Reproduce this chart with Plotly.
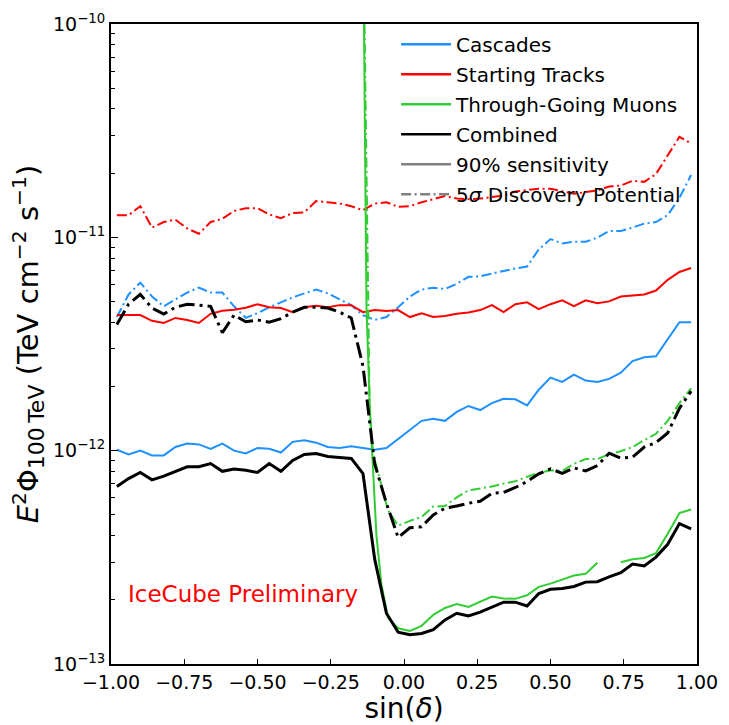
import plotly.graph_objects as go

# ---------------- data ----------------
sin_dec = [-0.98, -0.94, -0.90, -0.86, -0.82, -0.78, -0.74, -0.70, -0.66, -0.62,
           -0.58, -0.54, -0.50, -0.46, -0.42, -0.38, -0.34, -0.30, -0.26, -0.22,
           -0.18, -0.14, -0.10, -0.06, -0.02, 0.02, 0.06, 0.10, 0.14, 0.18,
           0.22, 0.26, 0.30, 0.34, 0.38, 0.42, 0.46, 0.50, 0.54, 0.58,
           0.62, 0.66, 0.70, 0.74, 0.78, 0.82, 0.86, 0.90, 0.94, 0.98]

cascades_sens = [1.01e-12, 9.6e-13, 1.0e-12, 9.5e-13, 9.5e-13, 1.04e-12, 1.08e-12, 1.07e-12, 1.02e-12, 1.08e-12,
                 1.0e-12, 9.7e-13, 1.03e-12, 1.02e-12, 9.8e-13, 1.1e-12, 1.12e-12, 1.09e-12, 1.04e-12, 1.03e-12,
                 1.05e-12, 1.03e-12, 1.01e-12, 1.03e-12, 1.13e-12, 1.25e-12, 1.38e-12, 1.41e-12, 1.38e-12, 1.52e-12,
                 1.62e-12, 1.55e-12, 1.67e-12, 1.75e-12, 1.74e-12, 1.63e-12, 1.93e-12, 2.2e-12, 2.1e-12, 2.27e-12,
                 2.13e-12, 2.1e-12, 2.17e-12, 2.32e-12, 2.63e-12, 2.74e-12, 2.77e-12, 3.35e-12, 4.0e-12, 4.0e-12]

cascades_dp = [4.23e-12, 5.4e-12, 6.13e-12, 5.28e-12, 4.75e-12, 5.12e-12, 5.51e-12, 5.81e-12, 5.51e-12, 5.51e-12,
               4.75e-12, 4.19e-12, 4.41e-12, 4.7e-12, 4.96e-12, 5.23e-12, 5.46e-12, 5.69e-12, 5.46e-12, 5.12e-12,
               4.81e-12, 4.32e-12, 4.1e-12, 4.23e-12, 4.7e-12, 5.28e-12, 5.69e-12, 5.81e-12, 5.72e-12, 6.06e-12,
               6.53e-12, 6.56e-12, 6.77e-12, 6.96e-12, 7.14e-12, 7.3e-12, 8.78e-12, 9.81e-12, 9.36e-12, 9.53e-12,
               9.53e-12, 9.97e-12, 1.07e-11, 1.07e-11, 1.11e-11, 1.16e-11, 1.18e-11, 1.27e-11, 1.53e-11, 1.96e-11]

tracks_sens = [4.32e-12, 4.32e-12, 4.32e-12, 4.06e-12, 3.97e-12, 4.19e-12, 4.1e-12, 3.97e-12, 4.38e-12, 4.53e-12,
               4.58e-12, 4.68e-12, 4.86e-12, 4.7e-12, 4.66e-12, 4.46e-12, 4.7e-12, 4.78e-12, 4.7e-12, 4.81e-12,
               4.81e-12, 4.46e-12, 4.56e-12, 4.51e-12, 4.56e-12, 4.23e-12, 4.41e-12, 4.23e-12, 4.28e-12, 4.38e-12,
               4.44e-12, 4.56e-12, 4.81e-12, 4.46e-12, 4.86e-12, 4.96e-12, 4.61e-12, 4.86e-12, 5.07e-12, 4.76e-12,
               5.07e-12, 4.91e-12, 5.01e-12, 5.28e-12, 5.34e-12, 5.4e-12, 5.63e-12, 6.32e-12, 6.88e-12, 7.18e-12]

tracks_dp = [1.27e-11, 1.27e-11, 1.4e-11, 1.11e-11, 1.18e-11, 1.21e-11, 1.1e-11, 1.04e-11, 1.18e-11, 1.22e-11,
             1.33e-11, 1.37e-11, 1.37e-11, 1.28e-11, 1.23e-11, 1.3e-11, 1.31e-11, 1.48e-11, 1.46e-11, 1.44e-11,
             1.4e-11, 1.34e-11, 1.44e-11, 1.46e-11, 1.39e-11, 1.4e-11, 1.46e-11, 1.51e-11, 1.56e-11, 1.52e-11,
             1.51e-11, 1.52e-11, 1.54e-11, 1.57e-11, 1.64e-11, 1.66e-11, 1.69e-11, 1.69e-11, 1.64e-11, 1.6e-11,
             1.63e-11, 1.66e-11, 1.73e-11, 1.75e-11, 1.84e-11, 1.82e-11, 1.98e-11, 2.42e-11, 2.96e-11, 2.75e-11]

combined_sens = [6.8e-13, 7.4e-13, 7.9e-13, 7.3e-13, 7.6e-13, 8.0e-13, 8.4e-13, 8.4e-13, 8.7e-13, 8.0e-13,
                 8.2e-13, 8.1e-13, 7.9e-13, 8.7e-13, 8.0e-13, 9.0e-13, 9.6e-13, 9.7e-13, 9.4e-13, 9.3e-13,
                 9.2e-13, 7.8e-13, 3.1e-13, 1.73e-13, 1.41e-13, 1.37e-13, 1.39e-13, 1.45e-13, 1.61e-13, 1.73e-13,
                 1.68e-13, 1.75e-13, 1.85e-13, 1.95e-13, 1.95e-13, 1.87e-13, 2.14e-13, 2.24e-13, 2.26e-13, 2.31e-13,
                 2.42e-13, 2.43e-13, 2.56e-13, 2.68e-13, 2.94e-13, 2.88e-13, 3.17e-13, 3.64e-13, 4.55e-13, 4.3e-13]

combined_dp = [3.9e-12, 4.86e-12, 5.4e-12, 4.66e-12, 4.37e-12, 4.7e-12, 4.86e-12, 4.81e-12, 4.75e-12, 3.57e-12,
               4.32e-12, 4.02e-12, 4.1e-12, 4.0e-12, 4.16e-12, 4.46e-12, 4.7e-12, 4.7e-12, 4.66e-12, 4.46e-12,
               4.19e-12, 2.49e-12, 8.66e-13, 5.67e-13, 3.92e-13, 4.35e-13, 4.4e-13, 5.0e-13, 5.38e-13, 5.5e-13,
               5.67e-13, 5.79e-13, 6.31e-13, 6.37e-13, 6.72e-13, 7.16e-13, 7.79e-13, 8.22e-13, 7.83e-13, 8.3e-13,
               8.04e-13, 8.51e-13, 9.73e-13, 9.23e-13, 9.33e-13, 1.04e-12, 1.09e-12, 1.21e-12, 1.58e-12, 1.9e-12]

muons_sens_x = [-0.14, -0.128, -0.117, -0.105, -0.094, -0.077, -0.055,
                -0.02, 0.02, 0.06, 0.10, 0.14, 0.18, 0.22, 0.26, 0.30, 0.34, 0.38, 0.42, 0.46,
                0.50, 0.54, 0.58, 0.62, 0.66, 0.70, 0.74, 0.78, 0.82, 0.86, 0.90, 0.94, 0.98]
muons_sens = [3.4e-10, 4.7e-12, 1.63e-12, 8.0e-13, 4.0e-13, 2.36e-13, 1.65e-13,
              1.47e-13, 1.43e-13, 1.51e-13, 1.70e-13, 1.83e-13, 1.91e-13, 1.85e-13, 1.95e-13, 2.07e-13, 2.03e-13,
              2.02e-13, 2.10e-13, 2.30e-13, 2.38e-13, 2.49e-13, 2.60e-13, 2.65e-13, 2.98e-13, None, 3.0e-13,
              3.1e-13, 3.14e-13, 3.31e-13, 4.08e-13, 5.1e-13, 5.3e-13]

muons_dp_x = [-0.14, -0.117, -0.105, -0.08, -0.055,
              -0.02, 0.02, 0.06, 0.10, 0.14, 0.18, 0.22, 0.26, 0.30, 0.34, 0.38, 0.42, 0.46,
              0.50, 0.54, 0.58, 0.62, 0.66, 0.70, 0.74, 0.78, 0.82, 0.86, 0.90, 0.94, 0.98]
muons_dp = [3.4e-10, 1.52e-12, 9.63e-13, 7.23e-13, 5.27e-13,
            4.45e-13, 4.69e-13, 4.89e-13, 5.47e-13, 5.5e-13, 6.04e-13, 6.51e-13, 6.65e-13, 6.79e-13, 7.01e-13,
            7.19e-13, 7.55e-13, 7.87e-13, 8.09e-13, 8.04e-13, 8.67e-13, 9.13e-13, 9.13e-13, 9.63e-13, 9.94e-13,
            1.04e-12, 1.12e-12, 1.20e-12, 1.38e-12, 1.67e-12, 1.96e-12]

x_ticks = [-1.0, -0.75, -0.5, -0.25, 0.0, 0.25, 0.5, 0.75, 1.0]
y_ticks = [1e-13, 1e-12, 1e-11, 1e-10]
y_tick_text = ["10<sup>\u221213</sup>", "10<sup>\u221212</sup>", "10<sup>\u221211</sup>", "10<sup>\u221210</sup>"]

legend_names = ["Cascades", "Starting Tracks", "Through-Going Muons", "Combined",
                "90% sensitivity", "5<i>\u03c3</i> Discovery Potential"]

# ---------------- styles ----------------
BLUE = "#1E90FF"
RED = "#FF0000"
GREEN = "#32CD32"
BLACK = "#000000"
GRAY = "#808080"
DD_THIN = "10px,3.5px,2px,3.5px"
DD_THICK = "16px,5px,3px,5px"

fig = go.Figure()

def add(x, y, color, width, dash):
    fig.add_trace(go.Scatter(x=x, y=y, mode="lines", showlegend=False,
                             line=dict(color=color, width=width, dash=dash),
                             connectgaps=False, hoverinfo="skip"))

add(sin_dec, cascades_sens, BLUE, 2, "solid")
add(sin_dec, cascades_dp, BLUE, 2, DD_THIN)
add(sin_dec, tracks_sens, RED, 2, "solid")
add(sin_dec, tracks_dp, RED, 2, DD_THIN)
add(muons_sens_x, muons_sens, GREEN, 2, "solid")
add(muons_dp_x, muons_dp, GREEN, 2, DD_THIN)
add(sin_dec, combined_sens, BLACK, 3, "solid")
add(sin_dec, combined_dp, BLACK, 3, DD_THICK)

legend_styles = [(BLUE, "solid"), (RED, "solid"), (GREEN, "solid"), (BLACK, "solid"),
                 (GRAY, "solid"), (GRAY, DD_THIN)]
for i, (name, (c, d)) in enumerate(zip(legend_names, legend_styles)):
    fig.add_trace(go.Scatter(x=[None], y=[None], mode="lines", name=name,
                             legendgroup=f"g{i}",
                             line=dict(color=c, width=2.5, dash=d)))

fig.add_annotation(text="IceCube Preliminary", x=0.025, y=0.109, xref="paper", yref="paper",
                   xanchor="left", yanchor="middle", showarrow=False,
                   font=dict(color=RED, size=23, family="DejaVu Sans"))

y_title = ("<i>E</i><sup>2</sup>\u03a6<sub><span style='font-size:22px'>100\u2009TeV</span></sub>"
           " (TeV cm<sup>\u22122</sup> s<sup>\u22121</sup>)")

fig.update_layout(
    width=729, height=725,
    margin=dict(l=111, r=24, t=11, b=61),
    paper_bgcolor="white", plot_bgcolor="white",
    font=dict(family="DejaVu Sans", color="black", size=19),
    legend=dict(x=0.4865, y=0.999, xanchor="left", yanchor="top",
                bgcolor="rgba(0,0,0,0)", borderwidth=0, itemwidth=50,
                font=dict(size=20, family="DejaVu Sans"),
                traceorder="grouped", tracegroupgap=1),
    xaxis=dict(range=[-1, 1], tickvals=x_ticks, tickformat=".2f",
               ticks="inside", ticklen=5, tickwidth=1, tickcolor="black",
               showline=True, linecolor="black", linewidth=2, mirror=True,
               showgrid=False, zeroline=False, ticklabeloverflow="allow",
               tickfont=dict(size=19),
               title=dict(text="sin(<i>\u03b4</i>)", font=dict(size=28), standoff=0)),
    yaxis=dict(type="log", range=[-13, -10], tickvals=y_ticks, ticktext=y_tick_text,
               ticks="inside", ticklen=7, tickwidth=1, tickcolor="black",
               showline=True, linecolor="black", linewidth=2, mirror=True,
               showgrid=False, zeroline=False, ticklabeloverflow="allow",
               tickfont=dict(size=19),
               minor=dict(ticks="inside", ticklen=4, tickwidth=1, tickcolor="black",
                          dtick="D1", showgrid=False),
               title=dict(text=y_title, font=dict(size=29), standoff=6)),
)

fig.write_html("out.html")
